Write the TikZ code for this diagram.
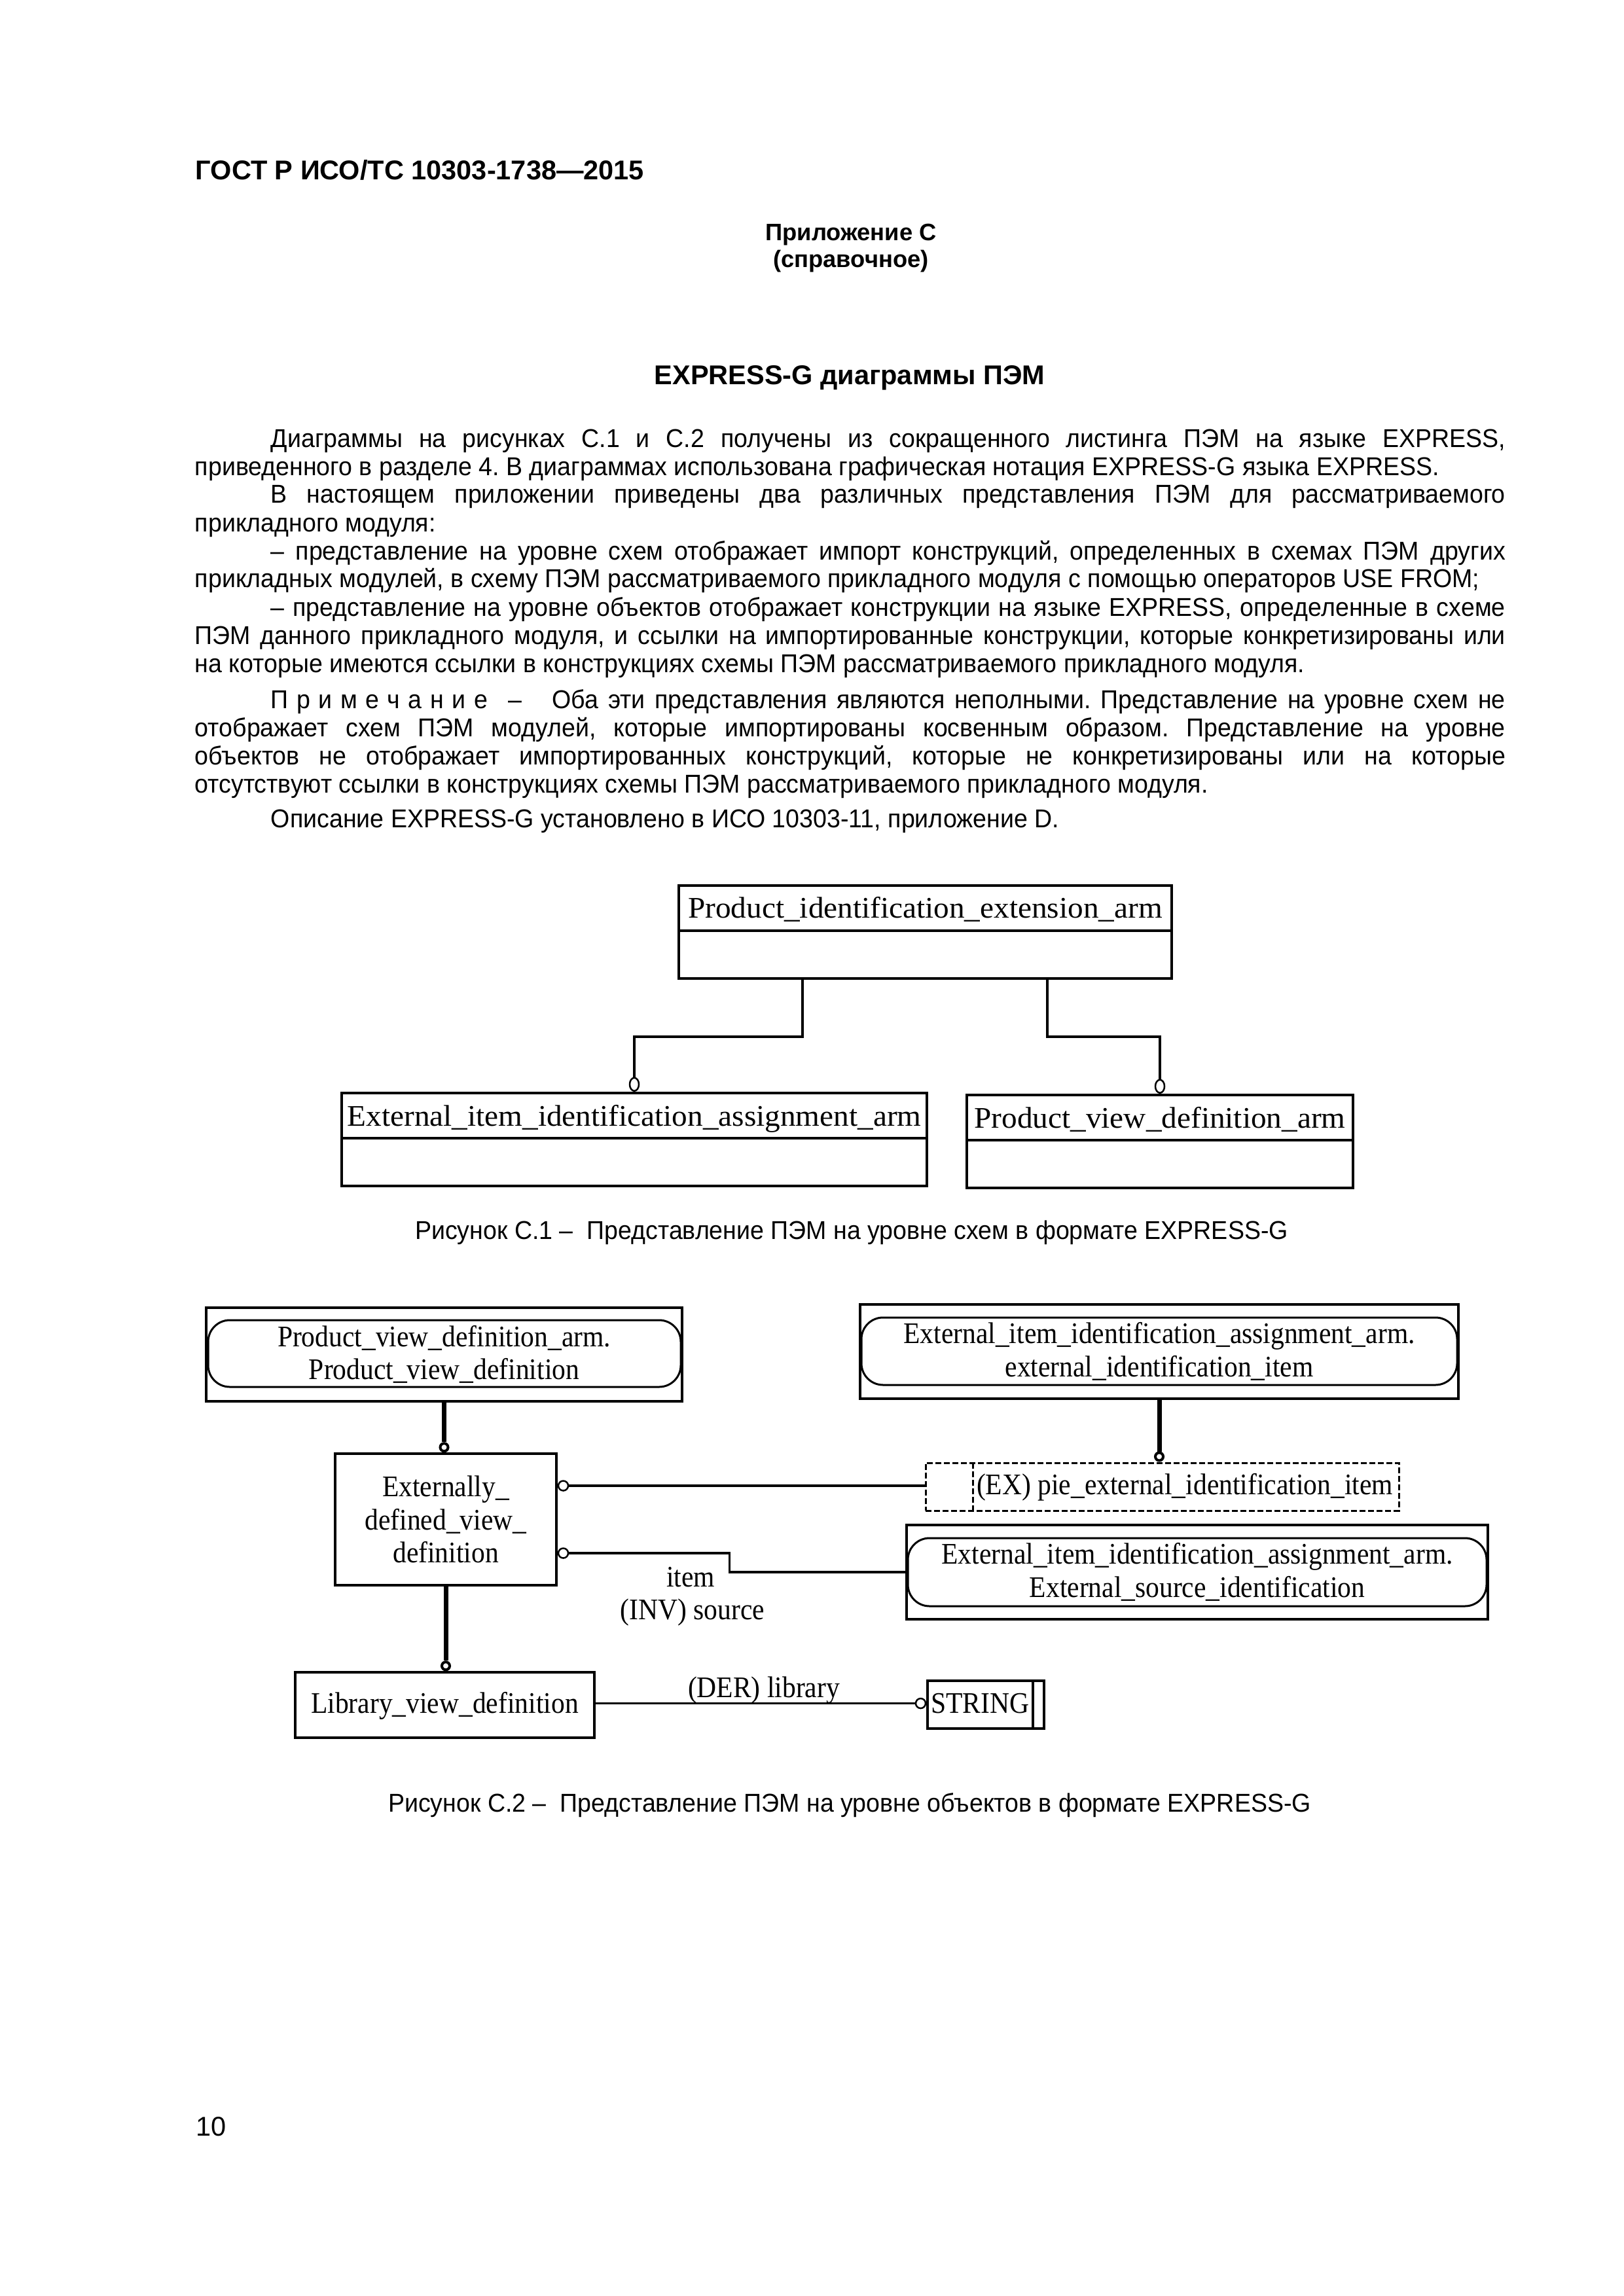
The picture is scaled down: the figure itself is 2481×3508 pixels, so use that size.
\documentclass[tikz,border=0pt]{standalone}
\usepackage{fontspec}
\setmainfont{Liberation Sans}
\newfontfamily\bodyfam[FakeStretch=0.952]{Liberation Sans}
\newfontfamily\diafa[FakeStretch=1.035]{Liberation Serif}
\newfontfamily\diafb[FakeStretch=0.91]{Liberation Serif}
\usetikzlibrary{shapes.geometric}
\newdimen\pxu \pxu=0.0846667mm
\frenchspacing
\newcommand\bodyfnt{\fontsize{9.5pt}{12pt}\selectfont\bodyfam\frenchspacing}
\newcommand\capfnt{\fontsize{9.5pt}{12pt}\selectfont\bodyfam}
\newcommand\dfa{\fontsize{11pt}{12pt}\selectfont\diafa}
\newcommand\dfb{\fontsize{11pt}{12.2pt}\selectfont\diafb}
% justified line, indented / not indented; plain line, indented / not
\newcommand\jusind[3]{\node[txt] (#1) at (413,#2) {\makebox[1886\pxu][s]{#3}};}
\newcommand\jusful[3]{\node[txt] (#1) at (297,#2) {\makebox[2002\pxu][s]{#3}};}
\newcommand\plnind[3]{\node[txt] (#1) at (413,#2) {#3};}
\newcommand\plnful[3]{\node[txt] (#1) at (297,#2) {#3};}
\newcommand\lsp{\kern 12.5\pxu}
\begin{document}
\begin{tikzpicture}[x=0.0846667mm,y=-0.0846667mm,
  txt/.style={anchor=base west,inner sep=0pt,font=\bodyfnt},
  ctr/.style={anchor=base,inner sep=0pt},
  boxa/.style={draw,line width=4\pxu,inner sep=0pt},
  lna/.style={line width=4\pxu},
  cira/.style={draw,ellipse,fill=white,line width=2.5\pxu,minimum width=14\pxu,minimum height=20\pxu,inner sep=0pt},
  boxb/.style={draw,line width=3.5\pxu,inner sep=0pt,font=\dfb,align=center},
  lnthick/.style={line width=7\pxu},
  lnthin/.style={line width=3.5\pxu},
  cirthick/.style={draw,circle,fill=white,line width=4\pxu,minimum size=12\pxu,inner sep=0pt},
  cirthin/.style={draw,circle,fill=white,line width=2.5\pxu,minimum size=15\pxu,inner sep=0pt},
  pill/.style={line width=3\pxu,rounded corners=33\pxu},
  lbl/.style={anchor=base,inner sep=0pt,font=\dfb}
]
\useasboundingbox (0,0) rectangle (2481,3508);
\fill[white] (0,0) rectangle (2481,3508);

% ---------- header ----------
\node[anchor=base west,inner sep=0pt,font=\fontsize{10pt}{12pt}\selectfont\bfseries] (hdr) at (298,274) {ГОСТ Р ИСО/ТС 10303-1738—2015};
\node[ctr,font=\fontsize{8.75pt}{10pt}\selectfont\bfseries] (app) at (1300,367) {Приложение С};
\node[ctr,font=\fontsize{8.75pt}{10pt}\selectfont\bfseries] (ref) at (1300,408) {(справочное)};
\node[ctr,font=\fontsize{10pt}{12pt}\selectfont\bfseries] (ttl) at (1298,587) {EXPRESS-G диаграммы ПЭМ};

% ---------- body text ----------
\jusind{l1}{683}{Диаграммы на рисунках С.1 и С.2 получены из сокращенного листинга ПЭМ на языке EXPRESS,}
\plnful{l2}{726}{приведенного в разделе 4. В диаграммах использована графическая нотация EXPRESS-G языка EXPRESS.}
\jusind{l3}{768}{В настоящем приложении приведены два различных представления ПЭМ для рассматриваемого}
\plnful{l4}{812}{прикладного модуля:}
\jusind{l5}{855}{– представление на уровне схем отображает импорт конструкций, определенных в схемах ПЭМ других}
\plnful{l6}{897}{прикладных модулей, в схему ПЭМ рассматриваемого прикладного модуля с помощью операторов USE FROM;}
\jusind{l7}{941}{– представление на уровне объектов отображает конструкции на языке EXPRESS, определенные в схеме}
\jusful{l8}{984}{ПЭМ данного прикладного модуля, и ссылки на импортированные конструкции, которые конкретизированы или}
\plnful{l9}{1027}{на которые имеются ссылки в конструкциях схемы ПЭМ рассматриваемого прикладного модуля.}
\jusind{l10}{1082}{П\lsp р\lsp и\lsp м\lsp е\lsp ч\lsp а\lsp н\lsp и\lsp е\kern 32\pxu–\kern 46\pxu Оба эти представления являются неполными. Представление на уровне схем не}
\jusful{l11}{1125}{отображает схем ПЭМ модулей, которые импортированы косвенным образом. Представление на уровне}
\jusful{l12}{1168}{объектов не отображает импортированных конструкций, которые не конкретизированы или на которые}
\plnful{l13}{1211}{отсутствуют ссылки в конструкциях схемы ПЭМ рассматриваемого прикладного модуля.}
\plnind{l14}{1264}{Описание EXPRESS-G установлено в ИСО 10303-11, приложение D.}

% ---------- Figure C.1 ----------
\node[boxa,minimum width=753\pxu,minimum height=142\pxu] (pie) at (1413.5,1424) {};
\draw[lna] (1037,1422) -- (1790,1422);
\node[ctr,font=\dfa] (pietx) at (1413.5,1402) {Product\_identification\_extension\_arm};

\node[boxa,minimum width=894\pxu,minimum height=142\pxu] (eiia) at (969,1741) {};
\draw[lna] (522,1739) -- (1416,1739);
\node[ctr,font=\dfa] (eiiatx) at (969,1720) {External\_item\_identification\_assignment\_arm};

\node[boxa,minimum width=590\pxu,minimum height=142\pxu] (pvda) at (1772,1744) {};
\draw[lna] (1477,1742) -- (2067,1742);
\node[ctr,font=\dfa] (pvdatx) at (1772,1723) {Product\_view\_definition\_arm};

\node[cira,anchor=south] (ca1) at (eiia.north) {};
\node[cira,anchor=south] (ca2) at (pvda.north) {};
\draw[lna] ([xshift=-188\pxu]pie.south) -- ++(0,87) -| (ca1.north);
\draw[lna] ([xshift=186\pxu]pie.south) -- ++(0,87) -| (ca2.north);

\node[ctr,font=\capfnt] (cap1) at (1301,1893) {Рисунок С.1 –\ \ Представление ПЭМ на уровне схем в формате EXPRESS-G};

% ---------- Figure C.2 ----------
\node[boxb,minimum width=727\pxu,minimum height=143\pxu] (pvd) at (678.5,2069.5) {Product\_view\_definition\_arm.\\Product\_view\_definition};
\draw[pill] (318,2017) rectangle (1040,2119);

\node[boxb,minimum width=914\pxu,minimum height=144\pxu] (eii) at (1771,2065) {External\_item\_identification\_assignment\_arm.\\external\_identification\_item};
\draw[pill] (1316,2013) rectangle (2226,2116);

\node[boxb,minimum width=338\pxu,minimum height=201\pxu] (edvd) at (681,2321.5) {Externally\_\\defined\_view\_\\definition};

\node[draw,line width=3\pxu,dash pattern=on 9\pxu off 4\pxu,minimum width=723\pxu,minimum height=73\pxu,inner sep=0pt] (pie2) at (1775.5,2271.5) {};
\draw[line width=3\pxu,dash pattern=on 9\pxu off 4\pxu] (1486,2235) -- (1486,2308);
\node[lbl] (pie2tx) at (1810,2283) {(EX) pie\_external\_identification\_item};

\node[boxb,minimum width=888\pxu,minimum height=144\pxu] (esi) at (1829,2402) {External\_item\_identification\_assignment\_arm.\\External\_source\_identification};
\draw[pill] (1387,2350) rectangle (2271,2454);

\node[boxb,minimum width=457\pxu,minimum height=100\pxu] (lvd) at (679.5,2605) {};
\node[lbl] (lvdtx) at (679.5,2617) {Library\_view\_definition};

\node[boxb,minimum width=178\pxu,minimum height=73\pxu] (str) at (1506,2604.5) {};
\draw[lnthin] (1578,2568) -- (1578,2641);
\node[lbl] (strtx) at (1497.5,2617) {STRING};

% circles
\node[cirthick,anchor=south] (k1) at (pvd.south |- edvd.north) {};
\node[cirthick,anchor=south] (k2) at (edvd.south |- lvd.north) {};
\node[cirthick,anchor=south] (k3) at (eii.south |- pie2.north) {};
\node[cirthin,anchor=west] (k4) at ([yshift=51.5\pxu]edvd.east) {};
\node[cirthin,anchor=west] (k5) at ([yshift=-51.5\pxu]edvd.east) {};
\node[cirthin,anchor=east] (k6) at ([yshift=2\pxu]str.west) {};

% connectors
\draw[lnthick] (pvd.south) -- (k1.north);
\draw[lnthick] (edvd.south) -- (k2.north);
\draw[lnthick] (eii.south) -- (k3.north);
\draw[lnthin] (k4.east) -- (k4.east -| pie2.west);
\draw[lnthin] (k5.east) -- ++(245,0) |- (esi.west);
\draw[lnthin] (k6.west) -- (k6.west -| lvd.east);

% labels
\node[lbl] (litem) at (1055,2424) {item};
\node[lbl] (linv) at (1058,2474) {(INV) source};
\node[lbl] (lder) at (1167,2593) {(DER) library};

\node[ctr,font=\capfnt] (cap2) at (1298,2768) {Рисунок С.2 –\ \ Представление ПЭМ на уровне объектов в формате EXPRESS-G};

\node[anchor=base west,inner sep=0pt,font=\fontsize{10pt}{12pt}\selectfont] (pgno) at (299,3263) {10};
\end{tikzpicture}
\end{document}
